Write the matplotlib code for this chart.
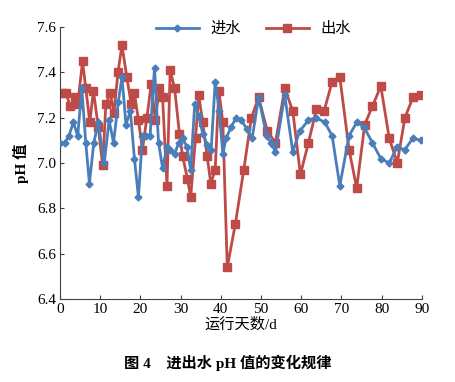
import numpy as np
import matplotlib
matplotlib.use("Agg")
import matplotlib.pyplot as plt

plt.rcParams['font.family'] = ['Liberation Serif', 'Noto Sans CJK SC']
plt.rcParams['axes.unicode_minus'] = False

# 进水 (influent)
days_in = [0.0, 1.2, 2.2, 3.3, 4.4, 5.4, 6.4, 7.3, 8.4, 9.5, 11.0, 12.2, 13.3, 14.5, 15.4,
           16.4, 17.5, 18.5, 19.5, 20.5, 21.4, 22.4, 23.5, 24.5, 25.5, 26.6, 27.4, 28.5,
           29.5, 30.5, 31.6, 32.5, 33.5, 34.5, 35.5, 36.6, 37.6, 38.6, 39.6, 40.5, 41.3,
           42.6, 43.8, 45.1, 46.5, 47.8, 49.4, 51.4, 52.5, 53.6, 55.9, 57.9, 59.6, 61.8,
           63.6, 65.9, 67.7, 69.6, 71.9, 73.8, 75.6, 77.7, 79.8, 81.9, 83.8, 85.8, 87.8, 89.8]
ph_in = [7.09, 7.09, 7.12, 7.18, 7.12, 7.33, 7.09, 6.91, 7.09, 7.18, 7.00, 7.19, 7.09, 7.27, 7.38,
         7.17, 7.23, 7.02, 6.85, 7.12, 7.12, 7.12, 7.42, 7.09, 6.98, 7.07, 7.06, 7.04,
         7.09, 7.11, 7.07, 6.97, 7.26, 7.21, 7.13, 7.08, 7.06, 7.36, 7.23, 7.04, 7.11,
         7.16, 7.20, 7.19, 7.15, 7.11, 7.29, 7.12, 7.09, 7.05, 7.30, 7.05, 7.14, 7.19,
         7.20, 7.18, 7.12, 6.90, 7.12, 7.18, 7.16, 7.09, 7.02, 7.00, 7.07, 7.06, 7.11, 7.10]

# 出水 (effluent)
days_out = [0.4, 1.5, 2.5, 3.6, 4.4, 5.6, 6.4, 7.4, 8.3, 9.5, 10.6, 11.4, 12.5, 13.4, 14.4,
            15.4, 16.6, 17.7, 18.5, 19.5, 20.5, 21.6, 22.7, 23.7, 24.7, 25.5, 26.6, 27.4,
            28.5, 29.7, 30.5, 31.7, 32.5, 33.7, 34.5, 35.5, 36.6, 37.5, 38.6, 39.5, 40.5,
            41.6, 43.6, 45.7, 47.6, 49.4, 51.6, 53.6, 55.9, 57.9, 59.8, 61.8, 63.8, 65.7,
            67.7, 69.6, 71.9, 73.8, 75.8, 77.7, 79.8, 81.9, 83.9, 85.8, 87.8, 89.8]
ph_out = [7.31, 7.31, 7.25, 7.29, 7.26, 7.45, 7.33, 7.18, 7.32, 7.16, 6.99, 7.26, 7.31, 7.22, 7.40,
          7.52, 7.38, 7.26, 7.31, 7.19, 7.06, 7.20, 7.35, 7.19, 7.33, 7.29, 6.90, 7.41,
          7.33, 7.13, 7.03, 6.93, 6.85, 7.11, 7.30, 7.18, 7.03, 6.91, 6.97, 7.32, 7.18,
          6.54, 6.73, 6.97, 7.20, 7.29, 7.14, 7.09, 7.33, 7.23, 6.95, 7.09, 7.24, 7.23,
          7.36, 7.38, 7.06, 6.89, 7.17, 7.25, 7.34, 7.11, 7.00, 7.20, 7.29, 7.30]

BLUE = '#4a7ebb'
RED = '#be4b48'

fig = plt.figure(figsize=(4.55, 3.82), dpi=100)
ax = fig.add_axes([0.132, 0.217, 0.795, 0.712])

ax.plot(days_in, ph_in, color=BLUE, lw=2.0, marker='D', ms=3.5,
        markeredgecolor=BLUE, label='进水', zorder=3)
ax.plot(days_out, ph_out, color=RED, lw=2.0, marker='s', ms=5.5,
        markeredgecolor=RED, label='出水', zorder=2)

ax.set_xlim(0, 90)
ax.set_ylim(6.4, 7.6)
ax.set_xticks(np.arange(0, 91, 10))
ax.set_yticks(np.arange(6.4, 7.61, 0.2))
ax.set_yticklabels([f"{v:.1f}" for v in np.arange(6.4, 7.61, 0.2)])

for side in ['top', 'right']:
    ax.spines[side].set_visible(False)
for side in ['left', 'bottom']:
    ax.spines[side].set_color('#404040')
    ax.spines[side].set_linewidth(0.8)
ax.tick_params(direction='in', length=3, width=0.8, color='#404040', labelsize=11, pad=3)

ax.set_xlabel('运行天数/d', fontsize=11, labelpad=1)
ax.set_ylabel('pH 值', fontsize=11, fontweight='bold', labelpad=6)

ax.legend(loc='upper center', bbox_to_anchor=(0.535, 1.07), ncol=2, frameon=False,
          fontsize=11, handlelength=2.8, columnspacing=1.6, handletextpad=0.8)

fig.text(0.5, 0.05, '图 4    进出水 pH 值的变化规律', ha='center', va='center',
         fontsize=11, fontweight='bold')

fig.savefig('out.png', dpi=100)
